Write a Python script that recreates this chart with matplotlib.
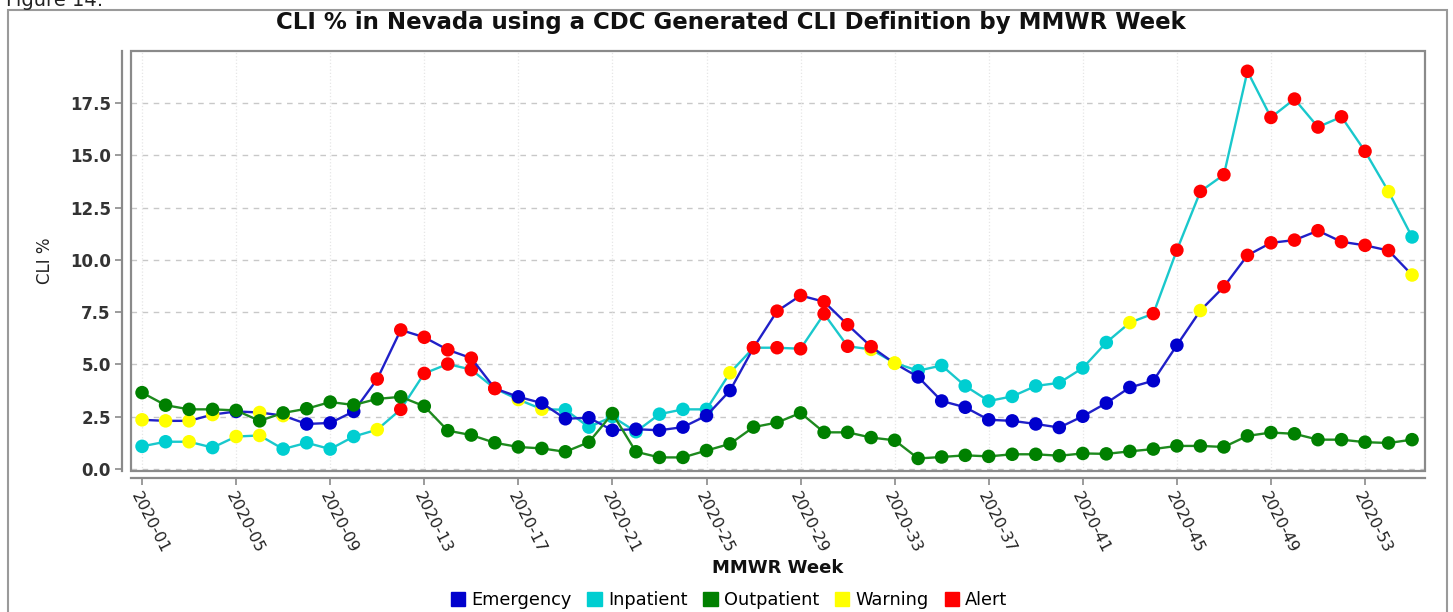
import matplotlib
matplotlib.use("Agg")
import matplotlib.pyplot as plt
from matplotlib.patches import Rectangle, Patch

plt.rcParams['font.family'] = ['DejaVu Sans']

# MMWR weeks shown on the x axis (last two points fall after 2020-53)
weeks = [f"2020-{w:02d}" for w in range(1, 54)] + ["2021-01", "2021-02"]

emergency = [2.35, 2.3, 2.3, 2.6, 2.75, 2.7, 2.55, 2.15, 2.2, 2.75,
             4.3, 6.65, 6.3, 5.7, 5.3, 3.85, 3.45, 3.15, 2.4, 2.45,
             1.85, 1.9, 1.85, 2.0, 2.55, 3.75, 5.8, 7.55, 8.3, 8.0,
             6.9, 5.85, 5.05, 4.4, 3.25, 2.95, 2.35, 2.3, 2.15, 1.98,
             2.52, 3.15, 3.9, 4.22, 5.92, 7.58, 8.72, 10.22, 10.82, 10.95,
             11.4, 10.87, 10.7, 10.45, 9.28]
inpatient = [1.08, 1.3, 1.3, 1.02, 1.55, 1.6, 0.95, 1.25, 0.95, 1.55,
             1.88, 2.85, 4.57, 5.02, 4.75, 3.85, 3.32, 2.86, 2.83, 2.0,
             2.5, 1.78, 2.62, 2.85, 2.85, 4.6, 5.8, 5.8, 5.75, 7.42,
             5.87, 5.72, 5.07, 4.7, 4.95, 3.97, 3.25, 3.47, 3.97, 4.12,
             4.83, 6.05, 7.0, 7.43, 10.47, 13.28, 14.08, 19.03, 16.82, 17.7,
             16.36, 16.85, 15.2, 13.27, 11.1]
outpatient = [3.65, 3.05, 2.85, 2.85, 2.8, 2.3, 2.68, 2.88, 3.2, 3.06,
              3.35, 3.45, 3.0, 1.83, 1.62, 1.25, 1.05, 0.98, 0.82, 1.28,
              2.65, 0.82, 0.55, 0.55, 0.88, 1.2, 2.0, 2.22, 2.68, 1.75,
              1.75, 1.5, 1.37, 0.5, 0.57, 0.65, 0.6, 0.7, 0.7, 0.63,
              0.74, 0.72, 0.84, 0.95, 1.1, 1.1, 1.05, 1.58, 1.74, 1.68,
              1.4, 1.4, 1.28, 1.24, 1.4]

# point status: N = normal, W = warning, A = alert
emergency_flag = list("WWWWNWWNNNAAAAAANNNNNNNNNNAAAAAAWNNNNNNNNNNNNWAAAAAAAAW")
inpatient_flag = list("NNWNWWNNNNWAAAAAWWNNNNNNNWAAAAAWWNNNNNNNNNWAAAAAAAAAAWN")
outpatient_flag = ["N"] * len(outpatient)

tick_labels = [f"2020-{w:02d}" for w in range(1, 54, 4)]

status_colors = {"W": "#FFFF00", "A": "#FF0000"}

fig = plt.figure(figsize=(14.53, 6.12), dpi=100)
ax = fig.add_axes([131 / 1453, 1 - 471 / 612, 1294 / 1453, 420 / 612])

x = list(range(len(weeks)))
series = [
    ("Inpatient", inpatient, inpatient_flag, "#19C8CC", "#00CED1"),
    ("Emergency", emergency, emergency_flag, "#2020C8", "#0000CD"),
    ("Outpatient", outpatient, outpatient_flag, "#1E8A1E", "#008000"),
]
for z, (name, vals, flags, lc, mc) in enumerate(series):
    ax.plot(x, vals, color=lc, lw=1.7, zorder=3 + 2 * z)
    cols = [status_colors.get(f, mc) for f in flags]
    ax.scatter(x, vals, s=95, c=cols, edgecolors='none', zorder=4 + 2 * z)

ax.set_xlim(-0.47, 54.55)
ax.set_ylim(-0.1, 20.0)

tick_pos = [weeks.index(t) for t in tick_labels]
yt = [0, 2.5, 5, 7.5, 10, 12.5, 15, 17.5]
ax.set_xticks(tick_pos)
ax.set_yticks(yt)

for v in yt:
    ax.axhline(v, color='#c8c8c8', lw=1, ls=(0, (4, 4)), zorder=1)
for p in tick_pos:
    ax.axvline(p, color='#e6e6e6', lw=0.9, ls=':', zorder=1)

for s in ['top', 'right']:
    ax.spines[s].set_visible(False)
ax.spines['left'].set_position(('outward', 6.5))
ax.spines['bottom'].set_position(('outward', 5))
for s in ['left', 'bottom']:
    ax.spines[s].set_color('#8a8a8a')
    ax.spines[s].set_linewidth(1.6)
ax.tick_params(axis='both', colors='#8a8a8a', length=5, width=1.2)
ax.tick_params(axis='x', labelcolor='#222222', pad=3)
ax.tick_params(axis='y', labelcolor='#333333', pad=3)

ax.set_xticklabels(tick_labels, fontsize=11.5, color='#222222')
ax.set_yticklabels([f"{v:.1f}" for v in yt], fontsize=12, fontweight='bold',
                   color='#333333')
for lab in ax.get_xticklabels():
    lab.set_rotation(-63)
    lab.set_ha('left')
    lab.set_va('top')
    lab.set_rotation_mode('anchor')

ax.add_patch(Rectangle((0, 0), 1, 1, transform=ax.transAxes, fill=False,
                       ec='#8a8a8a', lw=1.6, clip_on=False, zorder=10))

ax.set_ylabel("CLI %", fontsize=12, color='#222222')
ax.yaxis.set_label_coords((54 - 131) / 1294, 0.5)
ax.set_xlabel("MMWR Week", fontsize=13, fontweight='bold', color='#111111')
ax.xaxis.set_label_coords(0.5, (471 - 568) / 420)
ax.xaxis.label.set_va('center')

fig.text(0.503, 1 - 22 / 612, "CLI % in Nevada using a CDC Generated CLI Definition by MMWR Week",
         ha='center', va='center', fontsize=16.5, fontweight='bold', color='#111111')

# partially cut caption at the very top
fig.text(0.004, 1 - 6 / 612, "Figure 14:", fontsize=14, va='baseline', color='#222222')

# outer frame
fig.patches.append(Rectangle((8 / 1453, -0.05), 1439 / 1453, 1.05 - 10 / 612,
                             transform=fig.transFigure, fill=False,
                             ec='#9a9a9a', lw=1.5))

handles = [Patch(color="#0000CD", label="Emergency"),
           Patch(color="#00CED1", label="Inpatient"),
           Patch(color="#008000", label="Outpatient"),
           Patch(color="#FFFF00", label="Warning"),
           Patch(color="#FF0000", label="Alert")]
fig.legend(handles=handles, loc='center', bbox_to_anchor=(729 / 1453, 1 - 600 / 612),
           ncol=5, frameon=False, fontsize=12.8, handlelength=0.8, handleheight=0.8,
           handletextpad=0.35, columnspacing=0.9)

fig.savefig("out.png", dpi=100)
